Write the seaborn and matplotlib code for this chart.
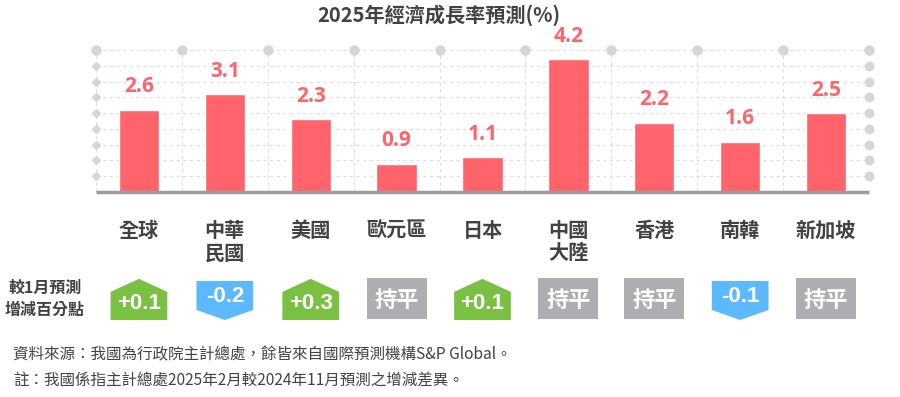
import numpy as np
import pandas as pd
import seaborn as sns
import matplotlib.pyplot as plt
from matplotlib.patches import Polygon

regions = ['全球', '中華\n民國', '美國', '歐元區', '日本', '中國\n大陸', '香港', '南韓', '新加坡']
growth = [2.6, 3.1, 2.3, 0.9, 1.1, 4.2, 2.2, 1.6, 2.5]
change = [0.1, -0.2, 0.3, 0.0, 0.1, 0.0, 0.0, -0.1, 0.0]

title = '2025年經濟成長率預測(%)'
row_label = '較1月預測\n增減百分點'
notes = ['資料來源：我國為行政院主計總處，餘皆來自國際預測機構S&P Global。',
         '註：我國係指主計總處2025年2月較2024年11月預測之增減差異。']

bar_color = '#ff636b'
up_color = '#7ac143'
down_color = '#5cb8ff'
flat_color = '#aeadb2'
text_color = '#424242'
grid_color = '#dedede'
dot_color = '#d6d6d6'

sns.set_theme(style='white')
plt.rcParams['font.family'] = ['Noto Sans CJK TC', 'DejaVu Sans']

W, H = 900, 397
fig = plt.figure(figsize=(W / 100, H / 100), dpi=100)
ax = fig.add_axes([96 / W, 1 - 192 / H, 773 / W, 142 / H])

df = pd.DataFrame({'region': regions, 'growth': growth})
sns.barplot(data=df, x='region', y='growth', color=bar_color, width=0.47,
            saturation=1, ax=ax, zorder=3)
ax.set_xlim(-0.5, len(regions) - 0.5)
ax.set_ylim(0, 4.5)
ax.set_xlabel('')
ax.set_ylabel('')
ax.set_yticks([])
sns.despine(ax=ax, left=True, bottom=True)

# dashed grid with dots at the ends
ylines = np.arange(0.5, 4.51, 0.5)
xlines = np.arange(-0.5, len(regions), 1.0)
for y in ylines:
    ax.plot([-0.5, len(regions) - 0.5], [y, y], ls=(0, (3, 3)), lw=0.8,
            color=grid_color, zorder=1)
for x in xlines:
    ax.plot([x, x], [0, 4.5], ls=(0, (3, 3)), lw=0.8, color=grid_color, zorder=1)
ax.plot([-0.5] * len(ylines), ylines, 'D', ms=4, color=dot_color, clip_on=False, zorder=2)
ax.plot([len(regions) - 0.5] * len(ylines), ylines, 'o', ms=6, color=dot_color,
        clip_on=False, zorder=2)
ax.plot(xlines, [4.5] * len(xlines), 'o', ms=6.5, color=dot_color, clip_on=False, zorder=2)
ax.plot([-0.5, len(regions) - 0.5], [0, 0], color='#9c9c9c', lw=2.5,
        solid_capstyle='butt', clip_on=False, zorder=4)

ax.bar_label(ax.containers[0], labels=[f'{v:.1f}' for v in growth], padding=9,
             fontsize=15, fontweight='bold', color=bar_color,
             family=['Open Sans', 'DejaVu Sans'])

ax.tick_params(axis='x', length=0, pad=20)
for lab in ax.get_xticklabels():
    lab.set_fontsize(14.5)
    lab.set_fontweight('bold')
    lab.set_color(text_color)
    lab.set_verticalalignment('top')
    lab.set_linespacing(1.1)

# change badges
bax = fig.add_axes([96 / W, 1 - 320 / H, 773 / W, 42 / H])
bax.set_xlim(-0.5, len(regions) - 0.5)
bax.set_ylim(0, 1)
bax.axis('off')
hw = 0.33
for i, c in enumerate(change):
    if c > 0:
        pts = [(i - hw, 0), (i + hw, 0), (i + hw, 0.67), (i, 0.98), (i - hw, 0.67)]
        col, ty, txt = up_color, 0.40, f'+{c:.1f}'
    elif c < 0:
        pts = [(i - hw, 0.93), (i + hw, 0.93), (i + hw, 0.24), (i, 0), (i - hw, 0.24)]
        col, ty, txt = down_color, 0.55, f'{c:.1f}'
    else:
        w = 0.35
        pts = [(i - w, 0.02), (i + w, 0.02), (i + w, 1), (i - w, 1)]
        col, ty, txt = flat_color, 0.43, '持平'
    bax.add_patch(Polygon(pts, closed=True, color=col, lw=0))
    bax.text(i, ty, txt, ha='center', va='center', color='white', fontsize=16,
             fontweight='bold', family=['Liberation Sans', 'Noto Sans CJK TC'])

fig.text(45 / W, 1 - 299 / H, row_label, ha='center', va='center', fontsize=11.5,
         fontweight='bold', color=text_color, linespacing=1.5)
fig.text(439 / W, 1 - 15 / H, title, ha='center', va='center', fontsize=14.5,
         fontweight='bold', color=text_color)
for k, line in enumerate(notes):
    fig.text(13 / W, 1 - (355 + 25 * k) / H, line, ha='left', va='center',
             fontsize=11.2, color=text_color)

fig.savefig('out.png', dpi=100)
